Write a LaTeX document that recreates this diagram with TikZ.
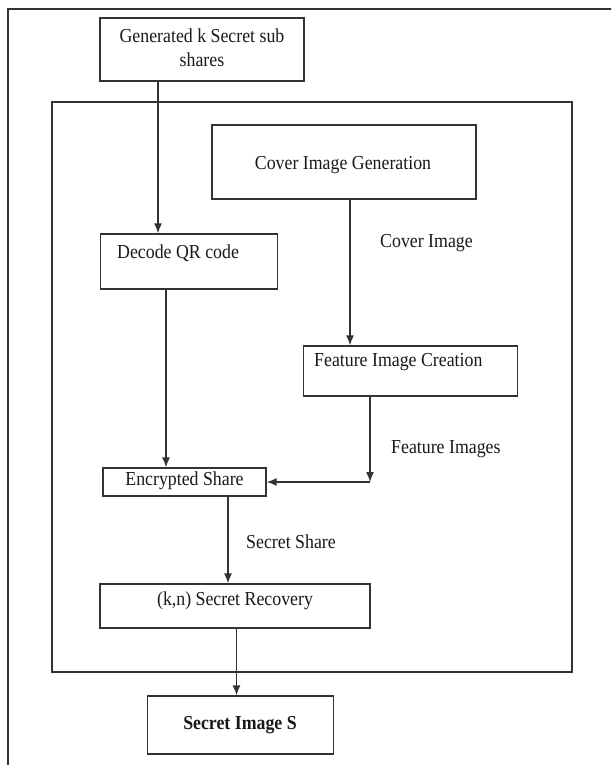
\documentclass[tikz,border=0pt]{standalone}
\usepackage{fontspec}
\setmainfont{Liberation Serif}[FakeStretch=0.9]
\usetikzlibrary{arrows.meta}
\begin{document}
\begin{tikzpicture}[x=1pt,y=-1pt,
  ln/.style={line width=1.3pt, draw=black!80},
  box/.style={ln, rectangle, inner sep=0pt},
  lbl/.style={font=\fontsize{19.8}{24}\selectfont, inner sep=0pt, text=black!90},
  arr/.style={ln, -{Latex[length=10pt,width=8pt]}}]
\useasboundingbox (0,0) rectangle (611,765);
\clip (0,0) rectangle (611,765);
% outer frame (cut off at right and bottom)
\draw[ln] (8,800) -- (8,9) -- (640,9);
% inner frame
\draw[ln] (52,102) rectangle (572,672);
% boxes
\node[box, minimum width=204pt, minimum height=63pt] (gen) at (202,49.5) {};
\node[lbl, align=center] (gent) at (202,48) {Generated k Secret sub\\shares};
\node[box, minimum width=264pt, minimum height=74pt] (cov) at (344,162) {};
\node[lbl] (covt) at (343,165) {Cover Image Generation};
\node[box, minimum width=177pt, minimum height=55pt] (dec) at (189,261.5) {};
\node[lbl, anchor=west] (dect) at (117,253) {Decode QR code};
\node[box, minimum width=214pt, minimum height=50pt] (fea) at (410.5,371) {};
\node[lbl, anchor=west] (feat) at (314,362) {Feature Image Creation};
\node[box, minimum width=163pt, minimum height=28pt] (enc) at (184.5,482) {};
\node[lbl] (enct) at (184.5,481) {Encrypted Share};
\node[box, minimum width=270pt, minimum height=44pt] (rec) at (235,606) {};
\node[lbl] (rect) at (235,601) {(k,n) Secret Recovery};
\node[box, minimum width=186pt, minimum height=58pt] (sec) at (240.5,725) {};
\node[lbl, font=\fontsize{19.8}{24}\selectfont\bfseries] (sect) at (240,725) {Secret Image S};
% edge labels
\node[lbl, anchor=west] (lcov) at (380,243) {Cover Image};
\node[lbl, anchor=west] (lfea) at (391,449) {Feature Images};
\node[lbl, anchor=west] (lsec) at (246,542) {Secret Share};
% connectors
\coordinate (corner) at (370,482);
\draw[arr] (gen.south -| 158,0) -- (dec.north -| 158,0);
\draw[arr] (cov.south -| 350,0) -- (fea.north -| 350,0);
\draw[arr] (dec.south -| 166,0) -- (enc.north -| 166,0);
\draw[arr] (fea.south -| corner) -- (corner);
\draw[arr] (corner) -- (enc.east);
\draw[arr] (enc.south -| 228,0) -- (rec.north -| 228,0);
\draw[arr] (rec.south -| 236.5,0) -- (sec.north -| 236.5,0);
\end{tikzpicture}
\end{document}
